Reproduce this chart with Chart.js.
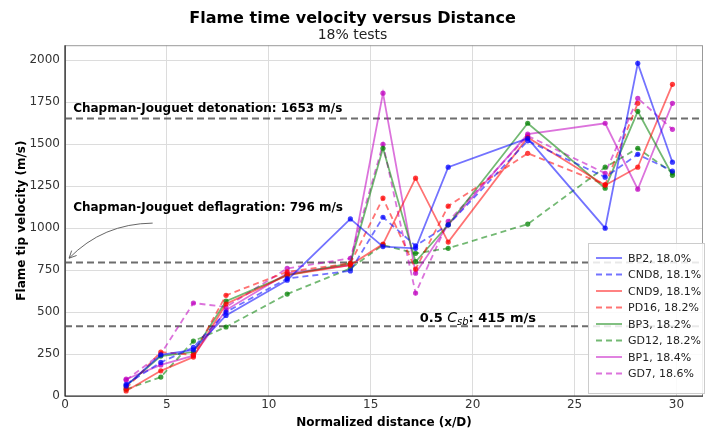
<!DOCTYPE html>
<html>
<head>
<meta charset="utf-8">
<script src="https://cdn.jsdelivr.net/npm/chart.js@4.4.1/dist/chart.umd.min.js"></script>
<style>
  html, body { margin: 0; padding: 0; background: #fff; }
  #wrap { width: 707px; height: 430px; }
</style>
</head>
<body>
<div id="wrap"><canvas id="chart"></canvas></div>
<script>
'use strict';

// distances where the probes sit (x/D)
const distances = [3.0, 4.7, 6.3, 7.9, 10.9, 14.0, 15.6, 17.2, 18.8, 22.7, 26.5, 28.1, 29.8];

const testNames = ['BP2, 18.0%', 'CND8, 18.1%', 'CND9, 18.1%', 'PD16, 18.2%', 'BP3, 18.2%', 'GD12, 18.2%', 'BP1, 18.4%', 'GD7, 18.6%'];

const bp2 = [60, 245, 275, 480, 690, 1055, 890, 880, 1363, 1535, 1000, 1982, 1393];
const cnd8 = [70, 200, 290, 500, 700, 745, 1065, 895, 1020, 1520, 1304, 1440, 1340];
const cnd9 = [30, 150, 232, 548, 720, 780, 905, 1298, 917, 1540, 1256, 1363, 1857];
const pd16 = [45, 262, 245, 600, 740, 790, 1179, 756, 1131, 1446, 1260, 1744, null];
const bp3 = [60, 238, 262, 565, 720, 790, 1476, 800, 1020, 1625, 1238, 1696, 1315];
const gd12 = [40, 113, 327, 411, 607, 760, 900, 850, 880, 1024, 1363, 1476, 1330];
const bp1 = [100, 185, 240, 512, 730, 780, 1804, 732, 1020, 1560, 1625, 1232, 1744];
const gd7 = [95, 250, 554, 530, 760, 820, 1500, 613, 1040, 1550, 1327, 1774, 1589];

const allSeries = [bp2, cnd8, cnd9, pd16, bp3, gd12, bp1, gd7];
const seriesColors = ['0,0,255', '0,0,255', '255,0,0', '255,0,0', '0,128,0', '0,128,0', '191,0,191', '191,0,191'];
const seriesDashed = [false, true, false, true, false, true, false, true];

// reference velocities
const cjDetonation = 1653;
const cjDeflagration = 796;
const halfCsb = 415;

const xTicks = [0, 5, 10, 15, 20, 25, 30];
const yTicks = [0, 250, 500, 750, 1000, 1250, 1500, 1750, 2000];

const datasets = allSeries.map((vals, i) => {
  return {
    label: testNames[i],
    data: distances.map((d, j) => ({ x: d, y: vals[j] })),
    borderColor: 'rgba(' + seriesColors[i] + ',0.55)',
    backgroundColor: 'rgba(' + seriesColors[i] + ',0.75)',
    borderWidth: 1.8,
    borderDash: seriesDashed[i] ? [6, 4] : [],
    pointRadius: 2.6,
    pointBorderWidth: 0,
    pointBackgroundColor: 'rgba(' + seriesColors[i] + ',0.75)',
    spanGaps: false,
    tension: 0
  };
});

const FONT = "'DejaVu Sans', sans-serif";

const refLines = {
  id: 'refLines',
  beforeDatasetsDraw(chart) {
    const ctx = chart.ctx;
    const ys = chart.scales.y;
    const area = chart.chartArea;
    ctx.save();
    ctx.strokeStyle = 'rgba(60,60,60,0.75)';
    ctx.lineWidth = 2;
    ctx.setLineDash([7, 4]);
    [cjDetonation, cjDeflagration, halfCsb].forEach(v => {
      const py = ys.getPixelForValue(v);
      ctx.beginPath();
      ctx.moveTo(area.left, py);
      ctx.lineTo(area.right, py);
      ctx.stroke();
    });
    ctx.restore();
  },
  afterDatasetsDraw(chart) {
    const ctx = chart.ctx;
    const xs = chart.scales.x;
    const ys = chart.scales.y;
    ctx.save();
    ctx.fillStyle = '#000';
    ctx.textBaseline = 'alphabetic';
    ctx.font = 'bold 12px ' + FONT;
    ctx.fillText('Chapman-Jouguet detonation: ' + cjDetonation + ' m/s', xs.getPixelForValue(0.4), ys.getPixelForValue(1690));
    ctx.fillText('Chapman-Jouguet deflagration: ' + cjDeflagration + ' m/s', xs.getPixelForValue(0.4), ys.getPixelForValue(1100));

    // 0.5 C_sb label
    let tx = xs.getPixelForValue(17.4);
    const ty = ys.getPixelForValue(440);
    ctx.font = 'bold 13px ' + FONT;
    ctx.fillText('0.5 ', tx, ty);
    tx += ctx.measureText('0.5 ').width;
    ctx.font = 'italic 14px ' + FONT;
    ctx.fillText('C', tx, ty);
    tx += ctx.measureText('C').width;
    ctx.font = 'italic 10px ' + FONT;
    ctx.fillText('sb', tx, ty + 3);
    tx += ctx.measureText('sb').width;
    ctx.font = 'bold 13px ' + FONT;
    ctx.fillText(': ' + halfCsb + ' m/s', tx, ty);

    // curved arrow to the deflagration line
    const sx = xs.getPixelForValue(4.3);
    const sy = ys.getPixelForValue(1030);
    const ex = xs.getPixelForValue(0.2);
    const ey = ys.getPixelForValue(cjDeflagration + 25);
    const cx = (sx + ex) / 2 - 8;
    const cy = (sy + ey) / 2 - 17;
    ctx.strokeStyle = '#555';
    ctx.lineWidth = 0.9;
    ctx.beginPath();
    ctx.moveTo(sx, sy);
    ctx.quadraticCurveTo(cx, cy, ex, ey);
    ctx.stroke();
    const ang = Math.atan2(ey - cy, ex - cx);
    ctx.beginPath();
    ctx.moveTo(ex, ey);
    ctx.lineTo(ex - 8 * Math.cos(ang - 0.45), ey - 8 * Math.sin(ang - 0.45));
    ctx.moveTo(ex, ey);
    ctx.lineTo(ex - 8 * Math.cos(ang + 0.45), ey - 8 * Math.sin(ang + 0.45));
    ctx.stroke();
    ctx.restore();
  },
  afterDraw(chart) {
    const ctx = chart.ctx;
    const area = chart.chartArea;
    ctx.save();
    // frame
    ctx.strokeStyle = '#999';
    ctx.lineWidth = 1;
    ctx.strokeRect(area.left + 0.5, area.top + 0.5, area.right - area.left - 1, area.bottom - area.top);
    ctx.strokeStyle = '#222';
    ctx.lineWidth = 1.2;
    ctx.beginPath();
    ctx.moveTo(area.left, area.top);
    ctx.lineTo(area.left, area.bottom);
    ctx.lineTo(area.right, area.bottom);
    ctx.stroke();

    // legend box, lower right inside the plot
    const bx = 588, by = 243, bw = 116, bh = 150;
    ctx.fillStyle = 'rgba(255,255,255,0.85)';
    ctx.fillRect(bx, by, bw, bh);
    ctx.strokeStyle = '#ccc';
    ctx.lineWidth = 1;
    ctx.strokeRect(bx + 0.5, by + 0.5, bw, bh);
    ctx.font = '11px ' + FONT;
    ctx.textBaseline = 'middle';
    testNames.forEach((name, i) => {
      const ly = by + 15 + i * 16.5;
      ctx.strokeStyle = 'rgba(' + seriesColors[i] + ',0.55)';
      ctx.lineWidth = 1.8;
      ctx.setLineDash(seriesDashed[i] ? [6, 4] : []);
      ctx.beginPath();
      ctx.moveTo(bx + 8, ly);
      ctx.lineTo(bx + 34, ly);
      ctx.stroke();
      ctx.setLineDash([]);
      ctx.fillStyle = '#222';
      ctx.fillText(name, bx + 40, ly + 1);
    });
    ctx.restore();
  }
};

const canvasEl = document.getElementById('chart');

new Chart(canvasEl, {
  type: 'line',
  data: { datasets: datasets },
  options: {
    responsive: true,
    maintainAspectRatio: false,
    animation: false,
    layout: { padding: { left: 0, right: 2, top: 0, bottom: 0 } },
    plugins: {
      legend: { display: false },
      tooltip: { enabled: false },
      title: {
        display: true,
        text: 'Flame time velocity versus Distance',
        color: '#000',
        font: { family: FONT, size: 16, weight: 'bold', lineHeight: 1.2 },
        padding: { top: 9, bottom: 0 }
      },
      subtitle: {
        display: true,
        text: '18% tests',
        color: '#222',
        font: { family: FONT, size: 14, lineHeight: 1.0 },
        padding: { top: 0, bottom: 3 }
      }
    },
    scales: {
      x: {
        type: 'linear',
        min: 0,
        max: 31.3,
        afterFit(scale) { scale.height = 34; },
        afterBuildTicks(scale) { scale.ticks = xTicks.map(v => ({ value: v })); },
        ticks: { color: '#333', font: { family: FONT, size: 12 }, padding: 2, callback: v => String(v) },
        grid: { color: '#dcdcdc', drawTicks: false },
        border: { display: false },
        title: {
          display: true,
          text: 'Normalized distance (x/D)',
          color: '#000',
          font: { family: FONT, size: 12, weight: 'bold' },
          padding: { top: 0, bottom: 0 }
        }
      },
      y: {
        type: 'linear',
        min: 0,
        max: 2090,
        afterFit(scale) { scale.width = 65; },
        afterBuildTicks(scale) { scale.ticks = yTicks.map(v => ({ value: v })); },
        ticks: { color: '#333', font: { family: FONT, size: 12 }, padding: 5, callback: v => String(v) },
        grid: { color: '#dcdcdc', drawTicks: false },
        border: { display: false },
        title: {
          display: true,
          text: 'Flame tip velocity (m/s)',
          color: '#000',
          font: { family: FONT, size: 12, weight: 'bold' },
          padding: { top: 15, bottom: 0 }
        }
      }
    }
  },
  plugins: [refLines]
});
</script>
</body>
</html>
